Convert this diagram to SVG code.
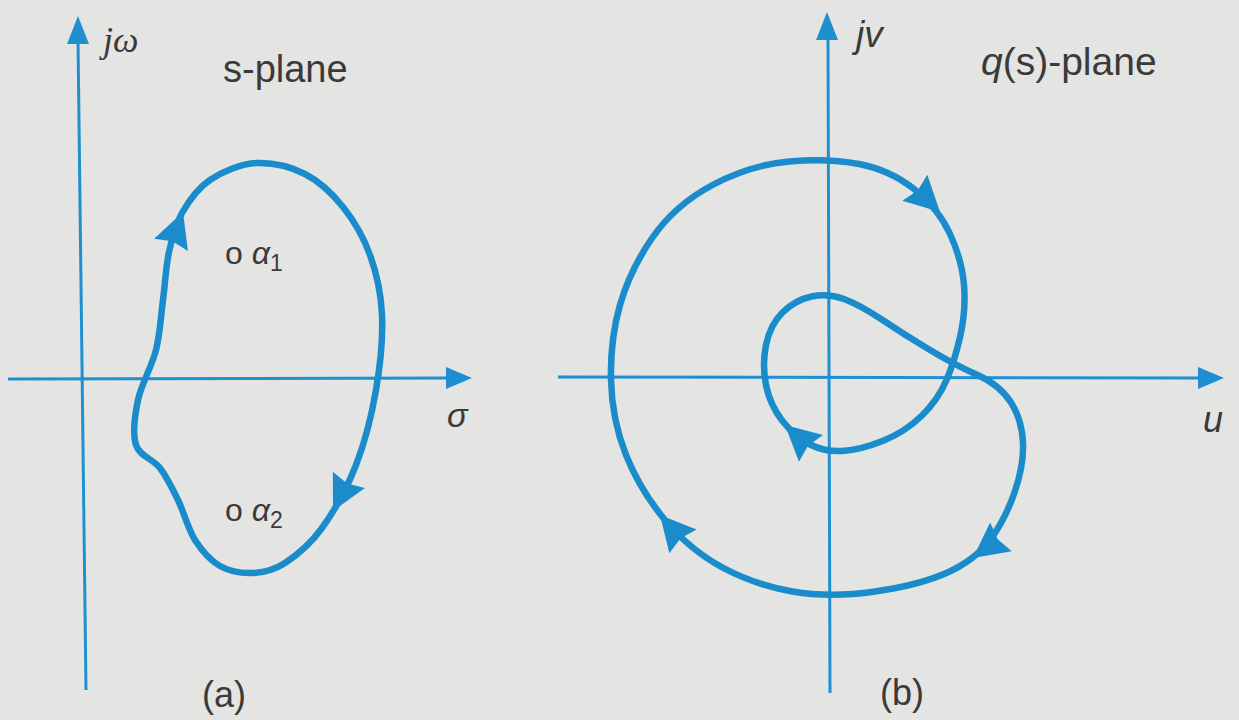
<svg xmlns="http://www.w3.org/2000/svg" xmlns:xlink="http://www.w3.org/1999/xlink" width="1239" height="720" viewBox="0 0 1239 720">
<style>
.axis{stroke:#1f8fcf;stroke-width:3;fill:none}
.curve{stroke:#1a8ccc;stroke-width:6.5;fill:none;stroke-linejoin:round;stroke-linecap:round}
.head{fill:#1a8ccc}
.ahead{fill:#1f8fcf}
.t{font-family:"Liberation Sans",Arial,sans-serif;fill:#3a3a3a}
.ts{font-family:"Liberation Serif","Times New Roman",serif;fill:#3a3a3a;font-style:italic}
.it{font-style:italic}
</style>
<defs>
<path id="ah" d="M0,0 L-35,-18 L-31,0 L-35,18 Z"/>
</defs>
<rect width="1239" height="720" fill="#e4e4e2"/>

<g id="s-plane-axes">
<line class="axis" x1="86" y1="690" x2="78" y2="40"/>
<polygon class="ahead" points="78,16 67,44 89,44"/>
<line class="axis" x1="8" y1="379" x2="450" y2="378"/>
<polygon class="ahead" points="472,378 446,367 446,389"/>
</g>

<g id="q-plane-axes">
<line class="axis" x1="830" y1="693" x2="828" y2="38"/>
<polygon class="ahead" points="827,12 816,40 838,40"/>
<line class="axis" x1="558" y1="377" x2="1200" y2="378"/>
<polygon class="ahead" points="1224,378 1198,367 1198,389"/>
</g>

<g id="connectors">
<g id="s-contour">
<path class="curve" d="M257,163 C272.8,162.5 290.7,166.7 305,174 C319.3,181.3 332.2,193.5 343,207 C353.8,220.5 363.5,237 370,255 C376.5,273 381,292.5 382,315 C383,337.5 380.3,365 376,390 C371.7,415 365,442 356,465 C347,488 333.8,511.7 322,528 C310.2,544.3 296.5,555.5 285,563 C273.5,570.5 263.8,572.5 253,573 C242.2,573.5 229.7,571.5 220,566 C210.3,560.5 202,551 195,540 C188,529 183.8,512 178,500 C172.2,488 167,477.2 160,468 C153,458.8 139.7,456.3 136,445 C132.3,433.7 134.7,415.8 138,400 C141.3,384.2 151.8,366.7 156,350 C160.2,333.3 160.8,316.3 163,300 C165.2,283.7 165.8,266.5 169,252 C172.2,237.5 175.2,225 182,213 C188.8,201 197.5,188.3 210,180 C222.5,171.7 241.2,163.5 257,163 Z"/>
<use xlink:href="#ah" class="head" transform="translate(183,212) rotate(-70)"/>
<use xlink:href="#ah" class="head" transform="translate(333,511) rotate(117)"/>
</g>
<g id="q-contour">
<path class="curve" d="M789,161.5 Q828,158 859,164 Q890,170 914,189 Q938,208 950,234 Q962,260 964,285 Q966,310 960.5,335 Q955,360 946.5,380 Q938,400 921.5,416 Q905,432 882.5,441 Q860,450 842.5,451 Q825,452 810,444.5 Q795,437 782.5,421 Q770,405 766,385 Q762,365 766,345 Q770,325 782.5,312.5 Q795,300 811.5,296.5 Q828,293 844,299 Q860,305 882.5,320 Q905,335 930,350 Q955,365 977.5,375 Q1000,385 1011,402.5 Q1022,420 1023,442.5 Q1024,465 1014.5,492.5 Q1005,520 990,540 Q975,560 947.5,572.5 Q920,585 875,591.5 Q830,598 792.5,591.5 Q755,585 722.5,567.5 Q690,550 665,520 Q640,490 626,455 Q612,420 611,380 Q610,340 620,305 Q630,270 652.5,237.5 Q675,205 712.5,185 Q750,165 789,161.5 Z"/>
<use xlink:href="#ah" class="head" transform="translate(940,212) rotate(44)"/>
<use xlink:href="#ah" class="head" transform="translate(973,558) rotate(143)"/>
<use xlink:href="#ah" class="head" transform="translate(660,515) rotate(-131)"/>
<use xlink:href="#ah" class="head" transform="translate(785,425) rotate(-138)"/>
</g>
</g>

<g id="labels-a">
<text class="ts" x="103" y="52" font-size="36">jω</text>
<text class="t" x="223" y="82" font-size="38">s-plane</text>
<text class="t" x="447" y="427" font-size="34"><tspan class="it">σ</tspan></text>
<text class="t" x="225" y="264" font-size="32">o <tspan class="it">α</tspan><tspan font-size="23" dy="7">1</tspan></text>
<text class="t" x="225" y="521" font-size="32">o <tspan class="it">α</tspan><tspan font-size="23" dy="7">2</tspan></text>
<text class="t" x="202" y="707" font-size="36">(a)</text>
</g>

<g id="labels-b">
<text class="t it" x="856" y="47" font-size="37">jv</text>
<text class="t" x="981" y="75" font-size="39"><tspan class="it">q</tspan>(s)-plane</text>
<text class="t it" x="1203" y="432" font-size="36">u</text>
<text class="t" x="880" y="705" font-size="36">(b)</text>
</g>
</svg>
